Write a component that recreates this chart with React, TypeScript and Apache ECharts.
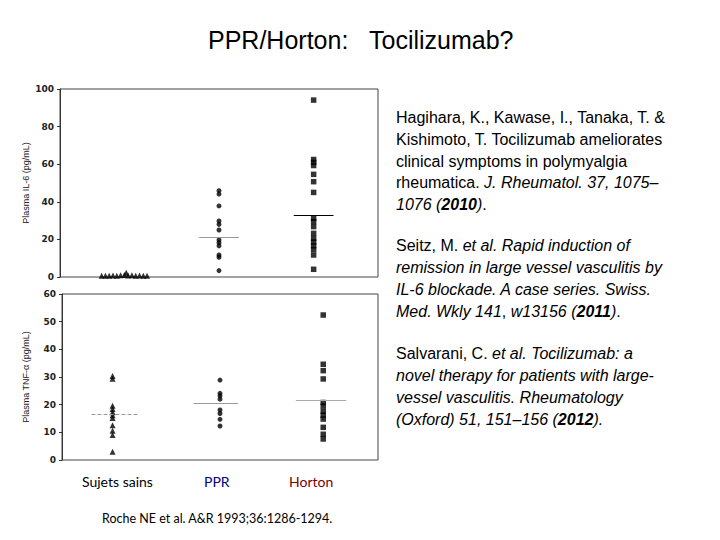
import React, { useEffect, useRef } from "react";
import * as echarts from "echarts";

// ---- data ----
const groups = ["Sujets sains", "PPR", "Horton"];
const groupX = [1, 2, 3];

// IL-6 (pg/mL)
const sainsIL6X = [0.76, 0.8, 0.84, 0.88, 0.92, 0.96, 1.0, 1.04, 1.08, 1.12, 1.16, 1.2, 1.24, 1.02];
const sainsIL6 = [0.6, 0.7, 0.6, 0.8, 0.7, 0.9, 1.0, 0.8, 0.9, 0.7, 0.8, 0.6, 0.7, 2.2];
const pprIL6 = [45.9, 44.1, 37.8, 29.8, 28.0, 25.0, 19.7, 18.2, 16.6, 11.7, 10.5, 3.4];
const hortonIL6 = [94.1, 62.5, 61.0, 59.3, 54.6, 50.7, 45.0, 31.2, 29.5, 26.8, 23.2, 20.5, 18.6, 16.6, 14.6, 11.7, 4.1];
const medianIL6 = [null, 21.4, 32.6];

// TNF-alpha (pg/mL)
const sainsTNF = [30.4, 29.4, 19.6, 18.4, 17.3, 16.2, 15.2, 12.6, 10.6, 9.0, 3.0];
const pprTNF = [28.9, 24.1, 23.2, 22.0, 18.1, 16.8, 14.7, 12.3];
const hortonTNF = [52.4, 34.6, 32.3, 29.3, 20.8, 19.5, 17.6, 16.2, 14.8, 11.8, 9.3, 7.6];
const medianTNF = [16.5, 20.5, 21.7];

const yTicksIL6 = { min: 0, max: 100, interval: 20 };
const yTicksTNF = { min: 0, max: 60, interval: 10 };

const normal = { fontFamily: "Liberation Sans, Arial", fontSize: 16, fill: "#000" };
const italic = { fontFamily: "Liberation Sans, Arial", fontSize: 16, fontStyle: "italic" as const, fill: "#000" };
const boldItalic = { ...italic, fontWeight: "bold" as const };

const refLines: { y: number; t: string }[] = [
  { y: 117, t: "{n|Hagihara, K., Kawase, I., Tanaka, T. &}" },
  { y: 139, t: "{n|Kishimoto, T. Tocilizumab ameliorates}" },
  { y: 161, t: "{n|clinical symptoms in polymyalgia}" },
  { y: 182, t: "{n|rheumatica. }{i|J. Rheumatol. 37, 1075–}" },
  { y: 204, t: "{i|1076 (}{b|2010}{i|)}{n|.}" },
  { y: 245, t: "{n|Seitz, M. }{i|et al. Rapid induction of}" },
  { y: 267, t: "{i|remission in large vessel vasculitis by}" },
  { y: 289, t: "{i|IL‑6 blockade. A case series. Swiss.}" },
  { y: 311, t: "{i|Med. Wkly 141}{n|, }{i|w13156 (}{b|2011}{i|)}{n|.}" },
  { y: 353, t: "{n|Salvarani, C. }{i|et al. Tocilizumab: a}" },
  { y: 375, t: "{i|novel therapy for patients with large-}" },
  { y: 397, t: "{i|vessel vasculitis. Rheumatology}" },
  { y: 419, t: "{i|(Oxford) 51, 151–156 (}{b|2012}{i|).}" },
];

function medianLine(x: number, m: number | null, half: number, color: string, type: string) {
  if (m === null) return undefined;
  return {
    silent: true,
    symbol: "none",
    label: { show: false },
    lineStyle: { color, width: 1, type },
    data: [[{ coord: [x - half, m] }, { coord: [x + half, m] }]],
  };
}

export default function App() {
  const ref = useRef<HTMLDivElement>(null);
  useEffect(() => {
    if (!ref.current) return;
    const chart = echarts.init(ref.current, undefined, { renderer: "svg" });
    const axisLabel = { fontFamily: "DejaVu Sans", fontSize: 9, fontWeight: "bold", color: "#222", margin: 6 };
    const yName = { fontFamily: "Liberation Sans, Arial", fontSize: 9, color: "#222" };
    chart.setOption({
      animation: false,
      backgroundColor: "#fff",
      grid: [
        { left: 60, top: 89, width: 318, height: 188, show: true, borderColor: "#444", borderWidth: 1 },
        { left: 62, top: 294, width: 316, height: 166, show: true, borderColor: "#444", borderWidth: 1 },
      ],
      xAxis: [
        { gridIndex: 0, type: "value", min: 0.32, max: 3.68, show: false },
        { gridIndex: 1, type: "value", min: 0.5, max: 3.5, show: false },
      ],
      yAxis: [
        {
          gridIndex: 0, type: "value", ...yTicksIL6,
          name: "Plasma IL-6 (pg/mL)", nameLocation: "middle", nameGap: 30, nameTextStyle: yName,
          axisLine: { show: true, lineStyle: { color: "#333" } },
          axisTick: { show: true, length: 3, lineStyle: { color: "#333" } },
          splitLine: { show: false }, axisLabel,
        },
        {
          gridIndex: 1, type: "value", ...yTicksTNF,
          name: "Plasma TNF-α (pg/mL)", nameLocation: "middle", nameGap: 32, nameTextStyle: yName,
          axisLine: { show: true, lineStyle: { color: "#333" } },
          axisTick: { show: true, length: 3, lineStyle: { color: "#333" } },
          splitLine: { show: false }, axisLabel,
        },
      ],
      series: [
        {
          type: "scatter", xAxisIndex: 0, yAxisIndex: 0, symbol: "triangle", symbolSize: 6,
          itemStyle: { color: "#000" },
          data: sainsIL6.map((v, i) => [sainsIL6X[i], v]),
        },
        {
          type: "scatter", xAxisIndex: 0, yAxisIndex: 0, symbol: "circle", symbolSize: 5,
          itemStyle: { color: "#000" },
          data: pprIL6.map((v) => [groupX[1], v]),
          markLine: medianLine(groupX[1], medianIL6[1], 0.21, "#999", "solid"),
        },
        {
          type: "scatter", xAxisIndex: 0, yAxisIndex: 0, symbol: "rect", symbolSize: 5.5,
          itemStyle: { color: "#000" },
          data: hortonIL6.map((v) => [groupX[2], v]),
          markLine: medianLine(groupX[2], medianIL6[2], 0.21, "#000", "solid"),
        },
        {
          type: "scatter", xAxisIndex: 1, yAxisIndex: 1, symbol: "triangle", symbolSize: 6,
          itemStyle: { color: "#000" },
          data: sainsTNF.map((v) => [groupX[0] - 0.02, v]),
          markLine: medianLine(groupX[0], medianTNF[0], 0.22, "#999", "dashed"),
        },
        {
          type: "scatter", xAxisIndex: 1, yAxisIndex: 1, symbol: "circle", symbolSize: 5,
          itemStyle: { color: "#000" },
          data: pprTNF.map((v) => [groupX[1], v]),
          markLine: medianLine(groupX[1] - 0.04, medianTNF[1], 0.21, "#999", "solid"),
        },
        {
          type: "scatter", xAxisIndex: 1, yAxisIndex: 1, symbol: "rect", symbolSize: 5.5,
          itemStyle: { color: "#000" },
          data: hortonTNF.map((v) => [groupX[2] - 0.02, v]),
          markLine: medianLine(groupX[2] - 0.04, medianTNF[2], 0.24, "#aaa", "solid"),
        },
      ],
      graphic: [
        {
          type: "text", x: 208, y: 40,
          style: { text: "PPR/Horton:", verticalAlign: "middle", fontFamily: "Liberation Sans, Arial", fontSize: 25, fill: "#000" },
        },
        {
          type: "text", x: 369, y: 40,
          style: { text: "Tocilizumab?", verticalAlign: "middle", fontFamily: "Liberation Sans, Arial", fontSize: 25, fill: "#000" },
        },
        ...refLines.map((l) => ({
          type: "text", x: 396, y: l.y,
          style: {
            text: l.t, verticalAlign: "middle", align: "left",
            fontFamily: "Liberation Sans, Arial", fontSize: 16,
            rich: { n: normal, i: italic, b: boldItalic },
          },
        })),
        {
          type: "text", x: 82, y: 481,
          style: { text: groups[0], verticalAlign: "middle", fontFamily: "Lato", fontSize: 14, fill: "#000" },
        },
        {
          type: "text", x: 204, y: 481,
          style: { text: groups[1], verticalAlign: "middle", fontFamily: "Lato", fontSize: 14, fill: "#000080" },
        },
        {
          type: "text", x: 289, y: 481,
          style: { text: groups[2], verticalAlign: "middle", fontFamily: "Lato", fontSize: 14, fill: "#7a0000" },
        },
        {
          type: "text", x: 102, y: 518,
          style: { text: "Roche NE et al. A&R 1993;36:1286-1294.", verticalAlign: "middle", fontFamily: "Lato", fontSize: 12.5, fill: "#000" },
        },
      ],
    });
    return () => chart.dispose();
  }, []);
  return (
    <div
      ref={ref}
      style={{ position: "fixed", left: 0, top: 0, width: 720, height: 540, background: "#fff" }}
    />
  );
}
